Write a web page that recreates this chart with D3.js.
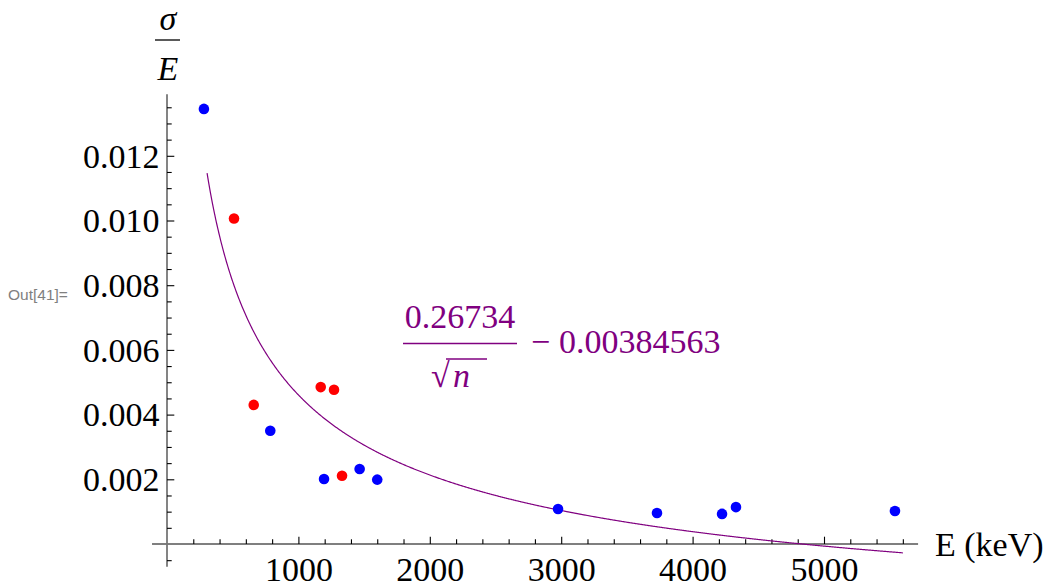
<!DOCTYPE html>
<html>
<head>
<meta charset="utf-8">
<script src="https://cdn.jsdelivr.net/npm/d3@7"></script>
<style>
  body { margin: 0; background: #fff; }
  svg { display: block; }
  .serif, .serif text { font-family: "Liberation Serif", "Times New Roman", Times, "DejaVu Serif", serif; }
</style>
</head>
<body>
<svg width="1044" height="586"></svg>
<script>
// measured points, E (keV) vs sigma/E
const blue_e = [281, 786, 1195, 1466, 1600, 2976, 3729, 4224, 4330, 5540];
const blue_r = [0.01345, 0.00350, 0.00201, 0.00232, 0.00199, 0.00108, 0.00096, 0.00093, 0.00114, 0.00102];
const red_e = [510, 660, 1170, 1271, 1332];
const red_r = [0.01006, 0.00430, 0.00485, 0.00477, 0.00211];

// fit shown on the plot: a / sqrt(n) + b
const fit_a = 0.26734;
const fit_b = -0.00384563;
const fit_range = [305, 5600];

const x_major = [1000, 2000, 3000, 4000, 5000];
const y_major = [0.002, 0.004, 0.006, 0.008, 0.010, 0.012];

const svg = d3.select("svg");
const font_px = "34px";

const x_scale = d3.scaleLinear().domain([0, 5000]).range([167, 824]);
const y_scale = d3.scaleLinear().domain([0, 0.012]).range([544, 155.8]);

const x_minor = d3.range(200, 5601, 200).filter((v) => v % 1000 !== 0);
const y_minor = d3.range(-1, 28)
    .filter((k) => k !== 0 && k % 4 !== 0)
    .map((k) => k * 0.0005);

const axes_g = svg.append("g");

// axis lines
axes_g.append("line")
    .attr("x1", x_scale(-114)).attr("x2", x_scale(5716))
    .attr("y1", y_scale(0)).attr("y2", y_scale(0))
    .attr("stroke", "#000").attr("stroke-width", 1.2);
axes_g.append("line")
    .attr("x1", x_scale(0)).attr("x2", x_scale(0))
    .attr("y1", y_scale(-0.0007)).attr("y2", y_scale(0.0139))
    .attr("stroke", "#777").attr("stroke-width", 1.8);

const style_axis = (g) => {
    g.attr("font-family", null).attr("font-size", null).classed("serif", true);
    g.select(".domain").remove();
    g.selectAll(".tick line").attr("stroke", "#000").attr("stroke-width", 1.1);
    g.selectAll(".tick text")
        .style("font-size", font_px)
        .attr("fill", "#000");
};

// x axis
axes_g.append("g")
    .attr("transform", `translate(0, ${y_scale(0)})`)
    .call(d3.axisBottom(x_scale).tickValues(x_minor).tickSize(-4.7).tickFormat(""))
    .call(style_axis);
axes_g.append("g")
    .attr("transform", `translate(0, ${y_scale(0)})`)
    .call(d3.axisBottom(x_scale).tickValues(x_major).tickSize(-7.3).tickFormat(d3.format("d")))
    .call(style_axis)
    .call((g) => g.selectAll(".tick text").attr("y", 36.5).attr("dy", 0));

// y axis
axes_g.append("g")
    .attr("transform", `translate(${x_scale(0)}, 0)`)
    .call(d3.axisLeft(y_scale).tickValues(y_minor).tickSize(-4.7).tickFormat(""))
    .call(style_axis);
axes_g.append("g")
    .attr("transform", `translate(${x_scale(0)}, 0)`)
    .call(d3.axisLeft(y_scale).tickValues(y_major).tickSize(-7.3).tickPadding(7.5).tickFormat(d3.format(".3f")))
    .call(style_axis)
    .call((g) => g.selectAll(".tick text").attr("dy", "0.33em"));

// axis labels
svg.append("text")
    .attr("class", "serif")
    .attr("x", 935).attr("y", 556)
    .style("font-size", font_px)
    .text("E (keV)");

const ylab = svg.append("g").attr("class", "serif").style("font-size", font_px).style("font-style", "italic");
ylab.append("text").attr("x", 168).attr("y", 30).attr("text-anchor", "middle").text("σ");
ylab.append("line").attr("x1", 155).attr("x2", 180).attr("y1", 40).attr("y2", 40)
    .attr("stroke", "#000").attr("stroke-width", 1.3);
ylab.append("text").attr("x", 168).attr("y", 80).attr("text-anchor", "middle").text("E");

svg.append("text")
    .attr("x", 8).attr("y", 300)
    .style("font-family", "'Liberation Sans', Arial, sans-serif")
    .style("font-size", "15.5px")
    .attr("fill", "#808080")
    .text("Out[41]=");

// fit curve
const fit_line = d3.line()
    .x((n) => x_scale(n))
    .y((n) => y_scale(fit_a / Math.sqrt(n) + fit_b));

svg.append("path")
    .datum(d3.range(fit_range[0], fit_range[1] + 1, 5))
    .attr("d", fit_line)
    .attr("fill", "none")
    .attr("stroke", "#800080")
    .attr("stroke-width", 1.2);

// points
const plotPoints = (xs, ys, color) => {
    svg.append("g")
        .selectAll("circle")
        .data(xs.map((x, i) => [x, ys[i]]))
        .enter()
        .append("circle")
        .attr("cx", (d) => x_scale(d[0]))
        .attr("cy", (d) => y_scale(d[1]))
        .attr("r", 5.3)
        .attr("fill", color);
};
plotPoints(blue_e, blue_r, "#0000ff");
plotPoints(red_e, red_r, "#ff0000");

// fit formula label
const formula = svg.append("g")
    .attr("class", "serif")
    .style("font-size", font_px)
    .attr("fill", "#800080");
formula.append("text").attr("x", 460).attr("y", 328).attr("text-anchor", "middle").text(fit_a.toString());
formula.append("line").attr("x1", 403).attr("x2", 517).attr("y1", 343.5).attr("y2", 343.5)
    .attr("stroke", "#800080").attr("stroke-width", 1.5);
formula.append("text").attr("x", 431).attr("y", 387).text("√");
formula.append("line").attr("x1", 446).attr("x2", 487).attr("y1", 359).attr("y2", 359)
    .attr("stroke", "#800080").attr("stroke-width", 1.5);
formula.append("text").attr("x", 453).attr("y", 387).style("font-style", "italic").text("n");
formula.append("text").attr("x", 531).attr("y", 353).text("−");
formula.append("text").attr("x", 559).attr("y", 353).text(Math.abs(fit_b).toString());
</script>
</body>
</html>
